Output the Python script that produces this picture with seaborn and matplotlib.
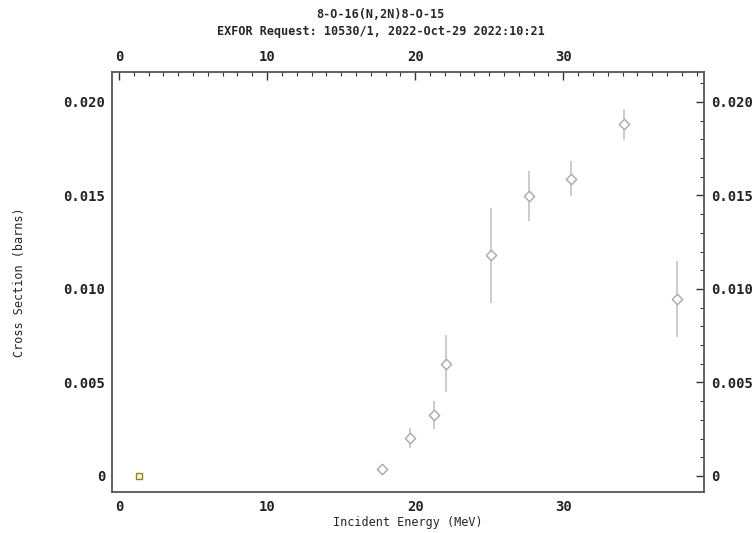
import numpy as np
import pandas as pd
import seaborn as sns
import matplotlib.pyplot as plt
from matplotlib.ticker import MultipleLocator, FuncFormatter

sns.set_style("white")
plt.rcParams['font.family'] = ['DejaVu Sans Mono']
plt.rcParams['font.weight'] = 'bold'

# data
energy = [17.75, 19.68, 21.26, 22.07, 25.09, 27.68, 30.54, 34.12, 37.68]
xs = [0.00036, 0.00202, 0.00326, 0.00601, 0.0118, 0.01496, 0.0159, 0.0188, 0.00948]
dxs = [0.0003, 0.00053, 0.00074, 0.0015, 0.00254, 0.00134, 0.00095, 0.00082, 0.00203]

sq_energy = [1.33]
sq_xs = [0.0]

df = pd.DataFrame({"energy": energy, "xs": xs, "dxs": dxs})

fig = plt.figure(figsize=(7.54, 5.33), dpi=100)
ax = fig.add_axes([112 / 754, 1 - 492 / 533, 592 / 754, 420 / 533])

ax.errorbar(df["energy"], df["xs"], yerr=df["dxs"], fmt="none",
            ecolor="#c4c4c4", elinewidth=1.2, capsize=0, zorder=2)
sns.scatterplot(data=df, x="energy", y="xs", marker="D", s=28,
                facecolor="white", edgecolor="#a8a8a8", linewidth=1.0,
                ax=ax, zorder=3)
ax.scatter(sq_energy, sq_xs, marker="s", s=22, facecolor="#fbf8c8",
           edgecolor="#8a8a30", linewidth=1.0, zorder=3)

ax.set_xlim(-0.47, 39.5)
ax.set_ylim(-0.00086, 0.0216)

ax.xaxis.set_major_locator(MultipleLocator(10))
ax.xaxis.set_minor_locator(MultipleLocator(1))
ax.yaxis.set_major_locator(MultipleLocator(0.005))
ax.yaxis.set_minor_locator(MultipleLocator(0.001))
ax.yaxis.set_major_formatter(FuncFormatter(lambda v, p: "0" if abs(v) < 1e-9 else f"{v:.3f}"))

ax.tick_params(which="both", direction="in", top=True, right=True,
               labeltop=True, labelright=True, colors="#333333",
               labelcolor="#222222", labelsize=10)
ax.tick_params(which="major", length=6, width=1.0)
ax.tick_params(axis="x", which="major", pad=6)
ax.tick_params(axis="y", which="major", pad=5)
ax.tick_params(which="minor", length=3, width=0.8)
for s in ax.spines.values():
    s.set_color("#555555")
    s.set_linewidth(1.3)

ax.set_xlabel("Incident Energy (MeV)", fontsize=8.5, labelpad=1)
ax.set_ylabel("Cross Section (barns)", fontsize=8.5, labelpad=27)

fig.text(0.505, 1 - 14 / 533, "8-O-16(N,2N)8-O-15", ha="center", va="center", fontsize=8.5)
fig.text(0.505, 1 - 31 / 533, "EXFOR Request: 10530/1, 2022-Oct-29 2022:10:21",
         ha="center", va="center", fontsize=8.5)

fig.savefig("out.png", dpi=100)
